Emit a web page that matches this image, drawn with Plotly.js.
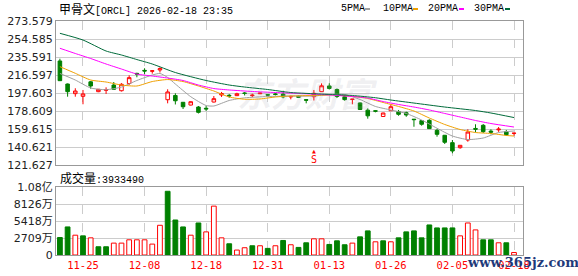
<!DOCTYPE html>
<html>
<head>
<meta charset="utf-8">
<script src="https://cdn.plot.ly/plotly-3.0.1.min.js"></script>
<style>html,body{margin:0;padding:0;background:#fff;}#chart{width:578px;height:276px;}</style>
</head>
<body>
<div id="chart"></div>
<script>
// ---- data ----
const dates = ['2025-11-20','2025-11-21','2025-11-24','2025-11-25','2025-11-26','2025-11-28','2025-12-01','2025-12-02','2025-12-03','2025-12-04',
 '2025-12-05','2025-12-08','2025-12-09','2025-12-10','2025-12-11','2025-12-12','2025-12-15','2025-12-16','2025-12-17','2025-12-18',
 '2025-12-19','2025-12-22','2025-12-23','2025-12-24','2025-12-26','2025-12-29','2025-12-30','2025-12-31','2026-01-02','2026-01-05',
 '2026-01-06','2026-01-07','2026-01-08','2026-01-09','2026-01-12','2026-01-13','2026-01-14','2026-01-15','2026-01-16','2026-01-20',
 '2026-01-21','2026-01-22','2026-01-23','2026-01-26','2026-01-27','2026-01-28','2026-01-29','2026-01-30','2026-02-02','2026-02-03',
 '2026-02-04','2026-02-05','2026-02-06','2026-02-09','2026-02-10','2026-02-11','2026-02-12','2026-02-13','2026-02-17','2026-02-18'];
const openP = [231.4,207.1,196.9,194.1,209.4,199.0,200.7,206.0,200.0,207.6,
 218.3,221.5,220.6,221.9,190.5,195.0,187.8,184.9,182.8,181.5,
 188.1,195.5,195.2,194.8,197.6,194.8,196.8,195.8,196.6,196.4,
 193.4,194.2,190.6,193.7,199.0,205.0,201.3,193.6,190.8,187.1,
 179.5,178.9,172.8,178.9,177.9,176.8,170.0,168.4,168.8,158.2,
 153.0,145.2,139.9,148.0,160.2,163.5,157.4,158.7,156.8,155.0];
const highP = [233.8,207.6,202.6,200.8,210.3,201.8,203.6,209.2,208.0,216.3,
 219.0,223.7,221.6,224.7,201.5,197.3,188.1,188.9,183.9,183.9,
 194.4,198.7,196.5,197.9,198.6,196.9,198.0,196.2,197.5,200.0,
 194.8,195.0,190.8,200.8,207.8,207.8,202.4,195.5,191.3,187.6,
 181.4,179.4,176.8,185.5,179.7,177.9,170.2,169.1,169.9,159.6,
 153.3,148.0,142.7,159.3,164.6,164.9,159.3,161.7,158.6,155.4];
const lowP = [210.3,193.7,193.7,185.7,202.1,198.5,196.6,201.3,199.2,206.1,
 214.2,217.3,218.0,219.2,186.7,185.5,180.7,184.5,176.0,178.6,
 187.6,193.4,192.6,194.4,195.0,193.1,196.5,194.9,195.0,192.0,
 190.9,192.5,186.7,189.7,198.8,201.3,192.3,189.5,185.7,179.7,
 170.5,177.2,172.5,178.6,173.6,172.5,162.0,163.1,159.6,151.5,
 143.8,134.0,138.8,146.2,156.1,155.4,154.0,156.6,152.5,152.5];
const closeP = [210.6,199.0,199.7,196.6,205.0,201.5,200.8,201.5,206.8,213.8,
 217.6,220.8,221.0,223.3,198.7,189.4,183.1,188.4,177.2,180.8,
 191.6,197.1,194.6,196.8,197.2,195.3,197.5,195.4,196.1,193.5,
 194.0,193.2,190.0,197.3,205.2,202.4,193.9,190.6,191.1,180.2,
 173.5,178.4,176.5,183.1,175.1,174.4,169.5,164.6,160.0,154.0,
 145.6,136.4,142.4,156.4,159.4,156.8,156.3,159.5,153.6,155.2];
// volume in 万 shares
const volume = [2788,4471,3156,3051,2735,1315,1315,1894,1894,2420,
 2420,2420,1736,4734,10152,5576,4471,3156,5102,3682,
 7785,2735,1788,789,1157,1473,1473,1052,1473,2314,
 1631,1210,1946,2577,2577,1683,2262,1631,1894,2893,
 3840,2104,2262,2104,2735,3682,3840,2735,4787,4313,
 4313,4313,3051,5102,3998,2420,2420,1946,1946,393.349];
// moving averages: bar index -> value
const ma5Idx = [0,2,4,6,8,10,12,13,14,15,17,19,20,22,24,27,30,33,35,37,39,41,43,45,47,49,51,53,55,57,59];
const ma5Val = [218.2,211.3,202.9,201.1,203.9,210.8,216.6,218.2,214.0,207.1,193.7,184.4,183.9,189.7,192.5,193.9,194.4,194.4,196.0,196.0,190.7,183.4,179.7,176.0,169.1,160.4,152.2,148.5,150.1,155.9,157.5];
const ma10Idx = [0,2,4,6,8,10,12,14,16,18,20,22,24,26,28,30,33,35,38,40,42,44,46,48,50,52,54,56,58,59];
const ma10Val = [225.4,218.4,211.3,209.2,206.0,205.0,209.7,211.8,209.7,205.0,199.7,193.4,191.0,191.3,193.4,194.4,195.0,195.5,194.1,191.8,187.6,183.4,178.6,171.2,164.4,159.1,155.9,154.9,152.8,152.2];
const ma20Idx = [0,2,4,6,8,10,12,14,16,18,20,22,25,28,31,34,38,40,42,44,46,48,50,52,54,56,59];
const ma20Val = [244.8,239.3,234.0,228.2,222.9,217.6,215.5,213.4,210.8,206.0,202.3,200.8,199.2,198.1,197.1,196.0,193.9,192.3,188.6,185.5,182.8,179.7,176.0,172.3,168.6,165.4,161.7];
const ma30Idx = [0,3,6,8,10,12,15,19,22,24,27,30,34,38,41,43,46,50,54,56,59];
const ma30Val = [260.6,253.5,241.9,237.7,232.9,228.2,219.2,210.8,206.0,203.9,201.3,198.1,196.5,195.0,192.6,190.2,187.0,182.8,179.1,176.5,171.7];
const priceTicks = [121.627,140.621,159.615,178.609,197.603,216.597,235.591,254.585,273.579];
const volTicks = [0,2709,5418,8126,10835];
const volTickText = ['0','2709万','5418万','8126万','1.08亿'];
const dateTickIdx = [3,11,19,27,35,43,51,59];
const stockName = '甲骨文[ORCL]';
const stamp = '2026-02-18 23:35';
const signalIdx = 33;

// ---- derived ----
const RED = '#ff0000', GREEN = '#008000';
const volUp = closeP.map((c,i) => i === 0 ? c >= openP[0] : c >= closeP[i-1]);
const W = 578, H = 276, L = 56, R = 55, T = 21, B = 21;
const pw = W - L - R, ph = H - T - B;
const px = x => (x - L) / pw;
const py = y => (H - B - y) / ph;
const pyPrice = y => priceTicks[8] - (y - T) * (priceTicks[8] - priceTicks[0]) / 144;

const traces = [
  {type:'candlestick', x:dates, open:openP, high:highP, low:lowP, close:closeP,
   xaxis:'x2', yaxis:'y', whiskerwidth:0, hoverinfo:'skip',
   increasing:{line:{color:RED,width:1}, fillcolor:'#ffffff'},
   decreasing:{line:{color:GREEN,width:1}, fillcolor:GREEN}},
  {type:'scatter', mode:'lines', x:ma5Idx.map(i=>dates[i]), y:ma5Val, xaxis:'x2', yaxis:'y', line:{color:'#a0a0a0',width:1,shape:'spline',smoothing:0.6}, hoverinfo:'skip'},
  {type:'scatter', mode:'lines', x:ma10Idx.map(i=>dates[i]), y:ma10Val, xaxis:'x2', yaxis:'y', line:{color:'#f0a000',width:1,shape:'spline',smoothing:0.6}, hoverinfo:'skip'},
  {type:'scatter', mode:'lines', x:ma20Idx.map(i=>dates[i]), y:ma20Val, xaxis:'x2', yaxis:'y', line:{color:'#ff00ff',width:1,shape:'spline',smoothing:0.6}, hoverinfo:'skip'},
  {type:'scatter', mode:'lines', x:ma30Idx.map(i=>dates[i]), y:ma30Val, xaxis:'x2', yaxis:'y', line:{color:'#006b3a',width:1,shape:'spline',smoothing:0.6}, hoverinfo:'skip'},
  {type:'bar', x:dates, y:volume, xaxis:'x', yaxis:'y2', width:0.62, hoverinfo:'skip',
   marker:{color:volUp.map(u=>u?'#ffffff':GREEN), line:{color:volUp.map(u=>u?RED:GREEN), width:1}}}
];

const xRange = [-0.507, 60.17];
const xCommon = {type:'category', categoryorder:'array', categoryarray:dates, range:xRange,
  showgrid:true, gridcolor:'#cccccc', griddash:'dash', gridwidth:1,
  tickvals:dateTickIdx.map(i=>dates[i]), ticktext:dateTickIdx.map(i=>dates[i].slice(5)),
  showline:true, mirror:true, linecolor:'#999999', linewidth:1, ticks:'', zeroline:false,
  rangeslider:{visible:false}, fixedrange:true};

const priceTop = py(T), priceBot = py(165), volTop = py(187);
const legendItems = [
  {name:'5PMA', color:'#a0a0a0', tx:338.7, dx:365},
  {name:'10PMA', color:'#f0a000', tx:380.7, dx:413},
  {name:'20PMA', color:'#ff00ff', tx:425.7, dx:459},
  {name:'30PMA', color:'#006b3a', tx:471.7, dx:505}
];
const monoFont = {family:'Liberation Mono, DejaVu Sans Mono, monospace', size:10, color:'#000'};
const cjk = s => `<span style="font-family:'Noto Sans CJK SC';font-size:12px">${s}</span>`;

const annotations = [
  {xref:'paper', yref:'paper', x:px(57), y:py(9), xanchor:'left', yanchor:'middle', showarrow:false,
   text: cjk(stockName.slice(0,3)) + stockName.slice(3) + ' ' + stamp, font:monoFont},
  {xref:'paper', yref:'paper', x:px(57.5), y:py(177.5), xanchor:'left', yanchor:'middle', showarrow:false,
   text: cjk('成交量') + ':' + Math.round(volume[volume.length-1]*10000), font:monoFont},
  {xref:'paper', yref:'paper', x:px(307), y:py(92), xanchor:'center', yanchor:'middle', showarrow:false,
   text:'<b><i>东方财富</i></b>', font:{family:'Noto Sans CJK SC', size:34, color:'rgba(160,160,175,0.16)'}},
  {xref:'x2', yref:'y', x:dates[signalIdx], y:pyPrice(150.5), xanchor:'center', yanchor:'middle', showarrow:false,
   text:'▲', font:{family:'DejaVu Sans', size:5, color:RED}},
  {xref:'x2', yref:'y', x:dates[signalIdx], y:pyPrice(159.5), xanchor:'center', yanchor:'middle', showarrow:false,
   text:'S', font:{family:'DejaVu Sans Mono', size:10, color:RED}},
  {xref:'paper', yref:'paper', x:px(465), y:py(262), xanchor:'left', yanchor:'middle', showarrow:false,
   text:'<b>www.365jz.com</b>', font:{family:'DejaVu Serif', size:13, color:'#1f3a7a'}}
];
const shapes = [];
legendItems.forEach(it => {
  annotations.push({xref:'paper', yref:'paper', x:px(it.tx), y:py(9), xanchor:'left', yanchor:'middle', showarrow:false,
    text:it.name, font:monoFont});
  shapes.push({type:'rect', xref:'paper', yref:'paper', x0:px(it.dx), x1:px(it.dx+5), y0:py(10), y1:py(8),
    fillcolor:it.color, line:{width:0}});
});

const layout = {
  width:W, height:H, margin:{l:L, r:R, t:T, b:B}, paper_bgcolor:'#fff', plot_bgcolor:'#fff',
  showlegend:false, boxgap:0.34, bargap:0.3, dragmode:false,
  xaxis: Object.assign({}, xCommon, {anchor:'y2', tickfont:{family:'DejaVu Sans Mono, monospace', size:10.5, color:RED}}),
  xaxis2: Object.assign({}, xCommon, {anchor:'y', matches:'x', showticklabels:false}),
  yaxis: {domain:[priceBot, priceTop], range:[priceTicks[0], priceTicks[priceTicks.length-1]],
    tickvals:priceTicks, ticktext:priceTicks.map(v=>v.toFixed(3)), tickfont:{family:'DejaVu Sans', size:11, color:'#222'},
    showgrid:true, gridcolor:'#cccccc', showline:true, mirror:true, linecolor:'#999999', ticks:'', zeroline:false, fixedrange:true},
  yaxis2: {domain:[0, volTop], range:[0, volTicks[volTicks.length-1]],
    tickvals:volTicks, ticktext:volTickText, tickfont:{family:'DejaVu Sans, Noto Sans CJK SC', size:11, color:'#222'},
    showgrid:true, gridcolor:'#cccccc', showline:true, mirror:true, linecolor:'#999999', ticks:'', zeroline:false, fixedrange:true},
  annotations: annotations, shapes: shapes
};
Plotly.newPlot('chart', traces, layout, {staticPlot:true, displayModeBar:false});
</script>
</body>
</html>
